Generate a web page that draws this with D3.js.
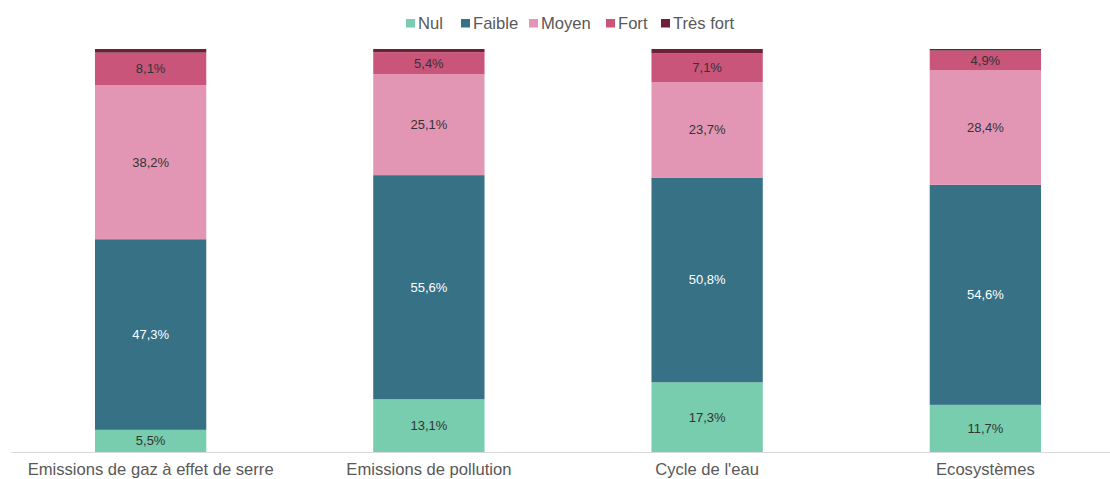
<!DOCTYPE html>
<html><head><meta charset="utf-8">
<script src="https://cdn.jsdelivr.net/npm/d3@7"></script>
<style>body{margin:0;background:#fff}svg{display:block;font-family:"Liberation Sans",Arial,sans-serif}</style>
</head><body>
<svg id="c" width="1110" height="479"></svg>
<script>
const categories = ["Emissions de gaz à effet de serre","Emissions de pollution","Cycle de l'eau","Ecosystèmes"];
const seriesNames = ["Nul","Faible","Moyen","Fort","Très fort"];
const nul = [5.5,13.1,17.3,11.7];
const faible = [47.3,55.6,50.8,54.6];
const moyen = [38.2,25.1,23.7,28.4];
const fort = [8.1,5.4,7.1,4.9];
const tresFort = [0.9,0.8,1.1,0.4];
const colors = ["#77cdae","#367186","#e396b4","#c9557a","#6e2038"];
const labelColors = ["#333","#fff","#333","#333","#333"];

const seriesVals = [nul,faible,moyen,fort,tresFort];
const data = categories.map((c,i)=>{const o={cat:c}; seriesNames.forEach((s,j)=>o[s]=seriesVals[j][i]); return o;});
const stack = d3.stack().keys(seriesNames)(data);

const svg = d3.select("#c");
const x = d3.scaleBand().domain(categories).range([11.5,1124.5]).paddingInner(0.6).paddingOuter(0.3);
const y = d3.scaleLinear().domain([0,100]).range([452,49]);

stack.forEach((layer,j)=>{
  const g = svg.append("g");
  g.selectAll("rect").data(layer).join("rect")
    .attr("x",d=>x(d.data.cat)).attr("width",x.bandwidth())
    .attr("y",d=>y(d[1])).attr("height",d=>y(d[0])-y(d[1]))
    .attr("fill",colors[j]);
  if(j<4){
    g.selectAll("text").data(layer).join("text")
      .attr("x",d=>x(d.data.cat)+x.bandwidth()/2)
      .attr("y",d=>(y(d[0])+y(d[1]))/2)
      .attr("dy","0.35em").attr("text-anchor","middle")
      .attr("font-size",13).attr("fill",labelColors[j])
      .text(d=>d3.format(".1f")(d[1]-d[0]).replace(".",",")+"%");
  }
});

// axis
svg.append("line").attr("x1",11).attr("x2",1110).attr("y1",452.5).attr("y2",452.5).attr("stroke","#d9d9d9").attr("stroke-width",1);
svg.selectAll(".cat").data(categories).join("text")
  .attr("x",d=>x(d)+x.bandwidth()/2).attr("y",475)
  .attr("text-anchor","middle").attr("font-size",16.6).attr("fill","#595959").text(d=>d);

// legend
const legX = [406,461,529,606,661];
const leg = svg.append("g");
seriesNames.forEach((s,i)=>{
  leg.append("rect").attr("x",legX[i]).attr("y",19).attr("width",9).attr("height",8.5).attr("fill",colors[i]);
  leg.append("text").attr("x",legX[i]+12).attr("y",29).attr("font-size",16.6).attr("fill","#595959").text(s);
});
</script>
</body></html>
